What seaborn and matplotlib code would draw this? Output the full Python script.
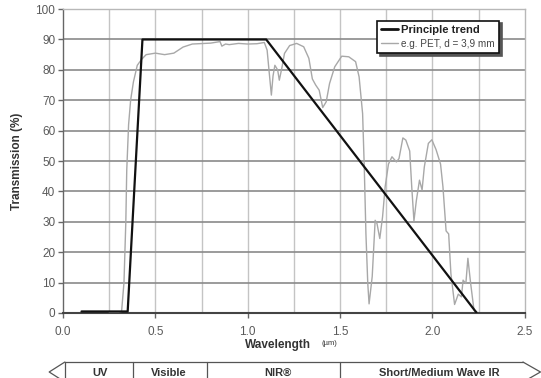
import numpy as np
import pandas as pd
import matplotlib
matplotlib.use("Agg")
import matplotlib.pyplot as plt
import matplotlib.transforms as mtransforms
from matplotlib.lines import Line2D
import seaborn as sns

# ---- data ----
trend_x = [0.10, 0.35, 0.43, 1.10, 2.24]
trend_y = [0.5, 0.5, 90.0, 90.0, 0.0]

pet_x = [0.25, 0.30, 0.317, 0.330, 0.340, 0.345, 0.355, 0.366, 0.381, 0.402, 0.426,
         0.45, 0.50, 0.55, 0.60, 0.65, 0.70, 0.80, 0.85, 0.86, 0.88, 0.90, 0.95,
         1.00, 1.05, 1.09, 1.105, 1.115, 1.128, 1.137, 1.147, 1.162, 1.171, 1.186,
         1.199, 1.227, 1.265, 1.303, 1.331, 1.350, 1.368, 1.387, 1.406, 1.425,
         1.443, 1.471, 1.509, 1.547, 1.584, 1.603, 1.622, 1.631, 1.640, 1.650,
         1.657, 1.674, 1.690, 1.700, 1.715, 1.730, 1.744, 1.762, 1.781, 1.805,
         1.819, 1.840, 1.856, 1.877, 1.888, 1.900, 1.913, 1.930, 1.944, 1.956,
         1.978, 1.997, 2.020, 2.044, 2.057, 2.074, 2.088, 2.100, 2.120, 2.140,
         2.157, 2.166, 2.181, 2.192, 2.207, 2.225, 2.241]
pet_y = [0.3, 0.3, 0.5, 10.0, 30.0, 47.0, 62.0, 70.0, 76.0, 81.5, 83.5,
         85.0, 85.5, 85.0, 85.5, 87.5, 88.5, 88.8, 89.3, 87.8, 88.5, 88.3, 88.7,
         88.5, 88.6, 89.0, 86.5, 80.0, 71.7, 78.0, 81.5, 80.0, 76.6, 81.0,
         85.4, 88.0, 88.7, 87.6, 83.8, 77.0, 75.0, 73.3, 67.6, 69.5,
         75.5, 81.0, 84.5, 84.3, 82.7, 77.7, 65.6, 48.0, 26.0, 9.7,
         3.0, 12.0, 30.5, 29.4, 24.5, 31.6, 41.5, 49.0, 51.4, 49.7,
         50.8, 57.6, 56.9, 53.3, 41.5, 30.3, 37.0, 43.7, 40.5, 48.0,
         55.8, 57.0, 53.7, 49.0, 41.5, 27.0, 26.0, 13.0, 2.8, 6.2,
         5.3, 10.8, 9.7, 18.0, 9.7, 1.0, 0.3]

band_edges = [0.38, 0.78, 1.5]
band_labels = ["UV", "Visible", "NIR®", "Short/Medium Wave IR"]
band_label_x = [0.20, 0.574, 1.162, 2.035]

legend_labels = ["Principle trend", "e.g. PET, d = 3,9 mm"]

trend_df = pd.DataFrame({"x": trend_x, "y": trend_y})
pet_df = pd.DataFrame({"x": pet_x, "y": pet_y})

sns.set_theme(style="white")
plt.rcParams["font.family"] = ["Liberation Sans", "DejaVu Sans"]

fig = plt.figure(figsize=(5.41, 3.78), dpi=100)
ax = fig.add_axes([0.1165, 0.172, 0.8535, 0.804])

sns.lineplot(data=pet_df, x="x", y="y", ax=ax, color="#a8a8a8", linewidth=1.0,
             sort=False, estimator=None, zorder=3)
sns.lineplot(data=trend_df, x="x", y="y", ax=ax, color="#111111", linewidth=1.6,
             sort=False, estimator=None, zorder=4)

ax.set_xlim(0, 2.5)
ax.set_ylim(0, 100)
ax.set_xticks(np.arange(0, 2.51, 0.5))
ax.set_xticks(np.arange(0, 2.51, 0.25), minor=True)
ax.set_yticks(np.arange(0, 101, 10))
ax.set_xticklabels([f"{v:.1f}" for v in np.arange(0, 2.51, 0.5)])

# grid
for xv in np.arange(0.25, 2.5, 0.25):
    ax.axvline(xv, color="#c4c4c4", linewidth=1.0, zorder=1)
for yv in np.arange(10, 100, 10):
    ax.axhline(yv, color="#8a8a8a", linewidth=1.2, zorder=1)

for side in ["top", "right"]:
    ax.spines[side].set_color("#b8b8b8")
    ax.spines[side].set_linewidth(1.0)
ax.spines["left"].set_color("#666666")
ax.spines["bottom"].set_color("#444444")
ax.spines["bottom"].set_linewidth(1.5)
ax.spines["left"].set_linewidth(1.0)

ax.tick_params(axis="both", which="major", direction="out", length=3.5, width=1.0,
               color="#666666", labelsize=8.5, labelcolor="#5a5a5a")
ax.tick_params(axis="x", which="major", pad=6, bottom=True)
ax.tick_params(axis="y", which="major", pad=2, left=True)
ax.tick_params(axis="x", which="minor", length=0)

ax.set_xlabel("")
ax.set_ylabel("Transmission (%)", fontsize=8.5, fontweight="bold", color="#333333",
              labelpad=9)

ax.text(0.465, -0.105, "Wavelength", transform=ax.transAxes, ha="center", va="center",
        fontsize=8.5, fontweight="bold", color="#333333")
ax.text(0.576, -0.100, "(µm)", transform=ax.transAxes, ha="center", va="center",
        fontsize=5.5, color="#333333")

# legend
handles = [Line2D([0], [0], color="#111111", linewidth=2.0),
           Line2D([0], [0], color="#a8a8a8", linewidth=1.0)]
leg = ax.legend(handles, legend_labels, loc="upper left", bbox_to_anchor=(0.680, 0.962),
                frameon=True, fancybox=False, framealpha=1, edgecolor="#111111",
                shadow={"color": "#555555", "alpha": 1.0}, fontsize=8.1,
                handlelength=1.5, handletextpad=0.3, borderpad=0.35, labelspacing=0.4,
                borderaxespad=0)
leg.get_frame().set_linewidth(1.2)
leg.texts[0].set_fontweight("bold")
leg.texts[0].set_color("#222222")
leg.texts[1].set_fontsize(7.2)
leg.texts[1].set_color("#444444")
leg.set_zorder(6)

# spectrum band below axis
trans = mtransforms.blended_transform_factory(ax.transData, fig.transFigure)
y_top, y_mid, y_bot = 0.0423, 0.0159, -0.0106
band_col = "#555555"
def seg(xs, ys):
    fig.add_artist(Line2D(xs, ys, transform=trans, color=band_col, linewidth=0.9,
                          clip_on=False))
seg([0.01, 2.49], [y_top, y_top])
seg([0.01, -0.075, 0.01], [y_top, y_mid, y_bot])
seg([2.49, 2.585, 2.49], [y_top, y_mid, y_bot])
seg([0.01, 0.01], [y_top, y_bot])
for e in band_edges:
    seg([e, e], [y_top, y_bot])
for lx, lab in zip(band_label_x, band_labels):
    fig.text(lx, 0.014, lab, transform=trans, ha="center", va="center",
             fontsize=8, fontweight="bold", color="#333333")

fig.savefig("out.png", dpi=100)
